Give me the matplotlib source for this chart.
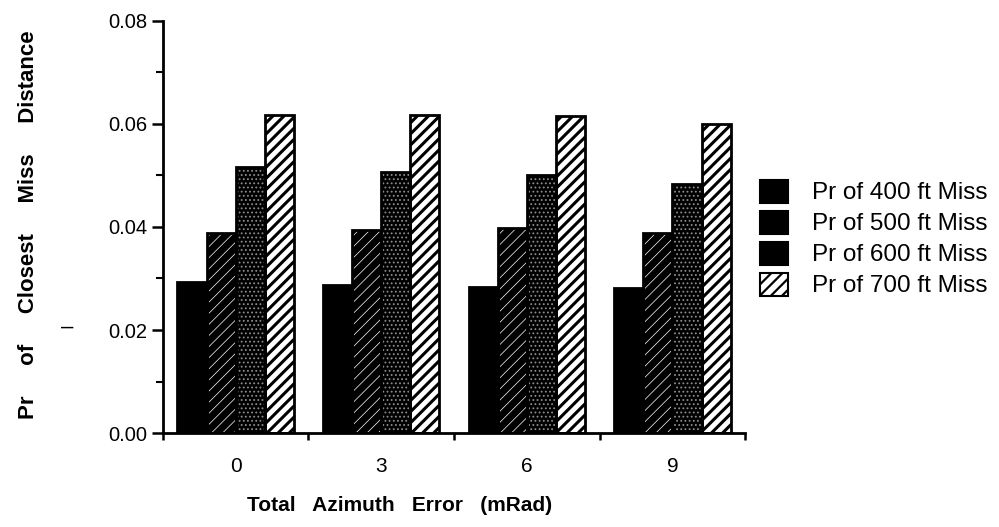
import matplotlib
matplotlib.use("Agg")
import matplotlib as mpl
import matplotlib.pyplot as plt
from matplotlib.patches import Patch
import numpy as np

plt.rcParams['font.family'] = ['Liberation Sans', 'DejaVu Sans']

categories = ["0", "3", "6", "9"]
series_labels = ["Pr of 400 ft Miss", "Pr of 500 ft Miss", "Pr of 600 ft Miss", "Pr of 700 ft Miss"]
pr_400 = [0.0293, 0.0288, 0.0283, 0.0281]
pr_500 = [0.0389, 0.0393, 0.0398, 0.0388]
pr_600 = [0.0516, 0.0506, 0.0500, 0.0484]
pr_700 = [0.0616, 0.0616, 0.0615, 0.0599]
y_ticks = [0.00, 0.02, 0.04, 0.06, 0.08]
y_tick_labels = ["0.00", "0.02", "0.04", "0.06", "0.08"]

series = [pr_400, pr_500, pr_600, pr_700]
# (facecolor, hatch, hatchcolor, hatch linewidth)
styles = [
    ("black", None, "black", 1.0),
    ("black", "///", "white", 0.5),
    ("black", "....", "#8c8c8c", 0.8),
    ("white", "///", "black", 2.2),
]


def apply_hatch_lw(artist, lw):
    if hasattr(artist, "set_hatch_linewidth"):
        artist.set_hatch_linewidth(lw)
    orig = artist.draw

    def draw(renderer, *a, **k):
        with mpl.rc_context({'hatch.linewidth': lw}):
            return orig(renderer, *a, **k)
    artist.draw = draw


fig = plt.figure(figsize=(9.99, 5.27), dpi=100)
ax = fig.add_axes([0.163, 0.178, 0.583, 0.783])

x = np.arange(len(categories))
width = 0.2
offsets = [-0.3, -0.1, 0.1, 0.3]

for vals, off, (fc, hatch, hc, hlw) in zip(series, offsets, styles):
    with plt.rc_context({'hatch.linewidth': hlw}):
        bars = ax.bar(x + off, vals, width, color=fc, edgecolor=hc, hatch=hatch,
                      linewidth=0, zorder=2)
    for b in bars:
        apply_hatch_lw(b, hlw)
    ax.bar(x + off, vals, width, facecolor="none", edgecolor="black",
           linewidth=2.0, zorder=3)

ax.set_xlim(-0.5, 3.5)
ax.set_ylim(0, 0.08)

# y axis
ax.set_yticks(y_ticks)
ax.set_yticklabels(y_tick_labels)
ax.set_yticks(np.arange(0.01, 0.08, 0.02), minor=True)
ax.tick_params(axis='y', which='major', length=8, width=1.8, labelsize=14.5, pad=3)
ax.tick_params(axis='y', which='minor', length=5, width=1.5)

# x axis: ticks at category boundaries, labels at centers
ax.set_xticks(np.arange(-0.5, 4.0, 1.0))
ax.set_xticklabels([])
ax.set_xticks(x, minor=True)
ax.set_xticklabels(categories, minor=True)
ax.tick_params(axis='x', which='major', length=5, width=1.8)
ax.tick_params(axis='x', which='minor', length=0, labelsize=15, pad=17)

for s in ["top", "right"]:
    ax.spines[s].set_visible(False)
for s in ["left", "bottom"]:
    ax.spines[s].set_linewidth(2.0)

ax.set_xlabel("Total   Azimuth   Error   (mRad)", fontsize=15, fontweight='bold')
ax.xaxis.set_label_coords(0.407, -0.152)
ax.set_ylabel("Pr     of     Closest     Miss     Distance", fontsize=16, fontweight='bold')
ax.yaxis.set_label_coords(-0.213, 0.505)

handles = []
for (fc, hatch, hc, hlw), lab in zip(styles, series_labels):
    handles.append(Patch(facecolor=fc, edgecolor="black", hatch=hatch, linewidth=1.5, label=lab))
leg = fig.legend(handles=handles, loc='center left', bbox_to_anchor=(760/999, 1 - 238.5/527),
                 bbox_transform=fig.transFigure, frameon=False, fontsize=17.5,
                 handlelength=1.15, handleheight=1.1, labelspacing=0.25,
                 handletextpad=1.0, borderpad=0, borderaxespad=0)
for p, (fc, hatch, hc, hlw) in zip(leg.get_patches(), styles):
    apply_hatch_lw(p, min(hlw, 1.6))

fig.text(67/999, 1 - 327/527, "–", fontsize=16, ha='center', va='center')

fig.savefig("out.png", dpi=100)
